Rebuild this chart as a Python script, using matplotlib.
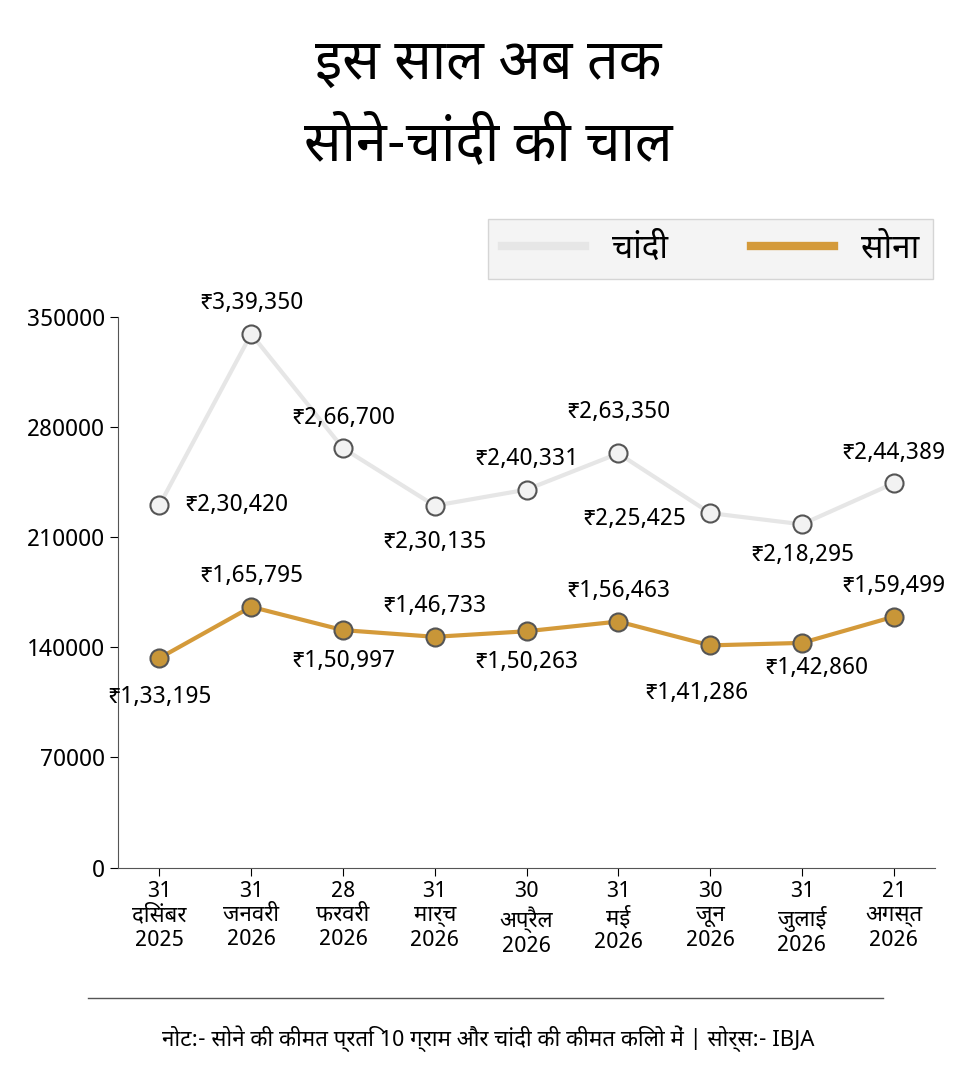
import matplotlib.pyplot as plt
from matplotlib import font_manager

fams = [f.name for f in font_manager.fontManager.ttflist]
dev = [f for f in ['Noto Sans Devanagari', 'Lohit Devanagari', 'FreeSans', 'Noto Sans'] if f in fams]
plt.rcParams['font.family'] = dev + ['DejaVu Sans']

dates = ['31\nदिसंबर\n2025', '31\nजनवरी\n2026', '28\nफरवरी\n2026', '31\nमार्च\n2026', '30\nअप्रैल\n2026',
         '31\nमई\n2026', '30\nजून\n2026', '31\nजुलाई\n2026', '21\nअगस्त\n2026']
silver = [230420, 339350, 266700, 230135, 240331, 263350, 225425, 218295, 244389]
gold = [133195, 165795, 150997, 146733, 150263, 156463, 141286, 142860, 159499]
silver_lbl = ['₹2,30,420', '₹3,39,350', '₹2,66,700', '₹2,30,135', '₹2,40,331', '₹2,63,350', '₹2,25,425', '₹2,18,295', '₹2,44,389']
gold_lbl = ['₹1,33,195', '₹1,65,795', '₹1,50,997', '₹1,46,733', '₹1,50,263', '₹1,56,463', '₹1,41,286', '₹1,42,860', '₹1,59,499']
# label offsets in points (dx, dy)
s_off = [(55, 0), (0, 22), (0, 22), (0, -26), (0, 22), (0, 30), (-55, -4), (0, -22), (0, 22)]
g_off = [(0, -28), (0, 22), (0, -22), (0, 22), (0, -22), (0, 22), (-10, -34), (10, -18), (0, 22)]

fig = plt.figure(figsize=(9.76, 10.79), dpi=100)
ax = fig.add_axes([0.121, 0.196, 0.837, 0.51])
x = list(range(len(dates)))
ax.plot(x, silver, color='#e6e6e6', lw=3, marker='o', ms=13, mfc='#f2f2f2', mec='#555555', mew=1.5, label='चांदी')
ax.plot(x, gold, color='#d49a3a', lw=3, marker='o', ms=13, mfc='#c89638', mec='#555555', mew=1.5, label='सोना')
for i in x:
    ax.annotate(silver_lbl[i], (i, silver[i]), xytext=s_off[i], textcoords='offset points', ha='center', va='center', fontsize=17)
    ax.annotate(gold_lbl[i], (i, gold[i]), xytext=g_off[i], textcoords='offset points', ha='center', va='center', fontsize=17)
ax.set_ylim(0, 350000)
ax.set_xlim(-0.45, 8.45)
ax.set_yticks(range(0, 350001, 70000))
ax.set_xticks(x)
ax.set_xticklabels(dates, fontsize=16, linespacing=1.2)
ax.tick_params(axis='y', labelsize=17, length=6)
ax.tick_params(axis='x', length=6)
for s in ['top', 'right']:
    ax.spines[s].set_visible(False)
ax.spines['left'].set_color('#555555')
ax.spines['bottom'].set_color('#555555')

fig.text(0.5, 0.94, 'इस साल अब तक', ha='center', va='center', fontsize=40, fontweight='bold')
fig.text(0.5, 0.865, 'सोने-चांदी की चाल', ha='center', va='center', fontsize=40, fontweight='bold')
leg = fig.legend(loc='center', bbox_to_anchor=(0.728, 0.769), ncol=2, fontsize=24, frameon=True,
                 fancybox=False, handlelength=2.5, columnspacing=2.5)
for h in leg.legend_handles:
    h.set_marker('')
    h.set_linewidth(6)
leg.get_frame().set_facecolor('#f2f2f2')
leg.get_frame().set_edgecolor('#cccccc')
fig.add_artist(plt.Line2D([0.09, 0.905], [0.075, 0.075], color='#555555', lw=1))
fig.text(0.5, 0.037, 'नोट:- सोने की कीमत प्रति 10 ग्राम और चांदी की कीमत किलो में | सोर्स:- IBJA',
         ha='center', va='center', fontsize=16, style='italic')
fig.savefig('out.png')
